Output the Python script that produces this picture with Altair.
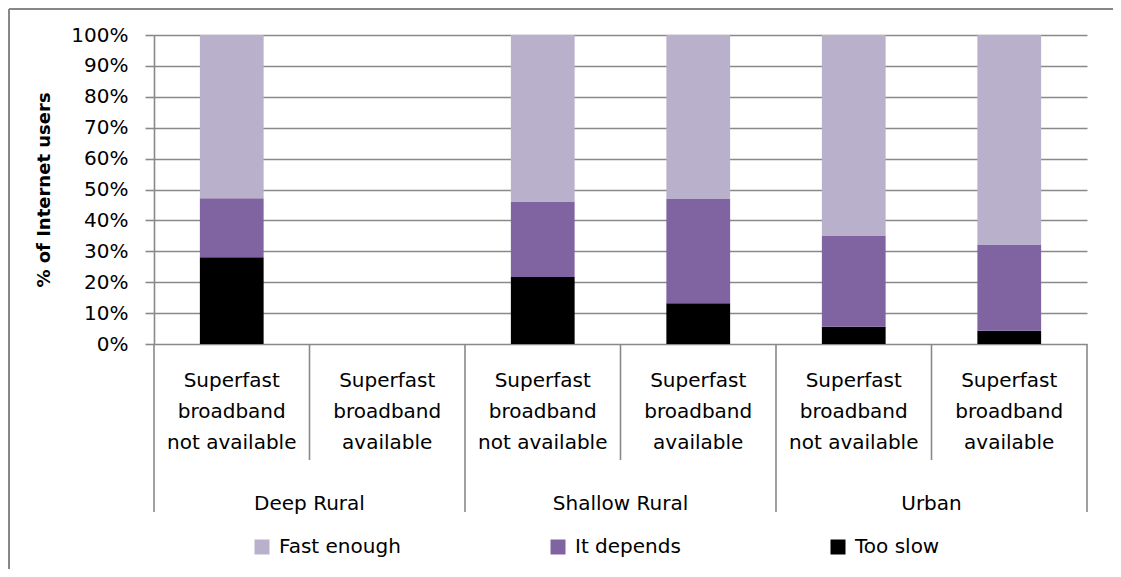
import altair as alt
import pandas as pd

# ---- data ----
groups = ["Deep Rural", "Deep Rural", "Shallow Rural", "Shallow Rural", "Urban", "Urban"]
subcats = [
    "Superfast\nbroadband\nnot available",
    "Superfast\nbroadband\navailable",
    "Superfast\nbroadband\nnot available",
    "Superfast\nbroadband\navailable",
    "Superfast\nbroadband\nnot available",
    "Superfast\nbroadband\navailable",
]
too_slow = [28.1, None, 21.7, 13.2, 5.6, 4.3]
it_depends = [19.1, None, 24.4, 33.7, 29.5, 27.7]
fast_enough = [52.8, None, 53.9, 53.1, 64.9, 68.0]
series = ["Fast enough", "It depends", "Too slow"]
colors = ["#B9B0CB", "#8064A2", "#000000"]
y_ticks = [0, 10, 20, 30, 40, 50, 60, 70, 80, 90, 100]

FONT = "DejaVu Sans"
GRAY = "#898989"

keys = [f"{g}|{i}" for i, g in enumerate(groups)]

rows = []
for k, ts, idp, fe in zip(keys, too_slow, it_depends, fast_enough):
    for name, v, o in (("Too slow", ts, 0), ("It depends", idp, 1), ("Fast enough", fe, 2)):
        if v is not None:
            rows.append({"key": k, "series": name, "value": v, "ord": o})
bar_df = pd.DataFrame(rows)

cat_df = pd.DataFrame({"key": keys, "sub": subcats})

# group boundaries / group label positions
group_start_idx = [i for i in range(len(groups)) if i == 0 or groups[i] != groups[i - 1]]
sub_bound_idx = [i for i in range(len(groups)) if i not in group_start_idx]
group_df = pd.DataFrame({
    "key": [keys[i + 1] for i in group_start_idx],
    "group": [groups[i] for i in group_start_idx],
})
gline_df = pd.DataFrame({"key": [keys[i] for i in group_start_idx]})
sline_df = pd.DataFrame({"key": [keys[i] for i in sub_bound_idx]})
end_df = pd.DataFrame({"key": [keys[-1]]})
one = pd.DataFrame({"a": [0]})

W, H = 933, 309
xscale = alt.Scale(domain=keys, paddingInner=0, paddingOuter=0)

bars = alt.Chart(bar_df).mark_bar(width=alt.RelativeBandSize(0.41)).encode(
    x=alt.X("key:N", scale=xscale, axis=None, sort=keys),
    y=alt.Y(
        "value:Q",
        stack="zero",
        scale=alt.Scale(domain=[0, 100]),
        axis=alt.Axis(
            values=y_ticks,
            labelExpr="datum.value + '%'",
            grid=True,
            gridColor=GRAY,
            gridWidth=1.6,
            tickSize=9,
            tickColor=GRAY,
            tickWidth=1.6,
            domainColor=GRAY,
            domainWidth=1.6,
            labelFontSize=20,
            labelPadding=17,
            labelColor="black",
            title="% of Internet users",
            titleFontSize=18,
            titleFontWeight="bold",
            titleColor="black",
            titlePadding=17,
        ),
    ),
    color=alt.Color(
        "series:N",
        scale=alt.Scale(domain=series, range=colors),
        legend=alt.Legend(
            title=None,
            orient="none",
            direction="horizontal",
            legendX=98,
            legendY=502,
            symbolType="square",
            symbolSize=225,
            symbolStrokeWidth=0,
            symbolOpacity=1,
            labelFontSize=20,
            labelOffset=7,
            labelColor="black",
            columnPadding=147,
            columns=3,
        ),
    ),
    order=alt.Order("ord:Q"),
)

sub_text = alt.Chart(cat_df).mark_text(
    lineBreak="\n", fontSize=20, lineHeight=31, baseline="middle", color="black"
).encode(
    x=alt.X("key:N", scale=xscale, sort=keys),
    y=alt.value(346),
    text="sub:N",
)

group_text = alt.Chart(group_df).mark_text(
    fontSize=20, baseline="middle", color="black"
).encode(
    x=alt.X("key:N", scale=xscale, sort=keys, bandPosition=0),
    y=alt.value(469),
    text="group:N",
)

glines = alt.Chart(gline_df).mark_rule(color=GRAY, strokeWidth=1.6).encode(
    x=alt.X("key:N", scale=xscale, sort=keys, bandPosition=0),
    y=alt.value(H),
    y2=alt.value(477),
)
endline = alt.Chart(end_df).mark_rule(color=GRAY, strokeWidth=1.6).encode(
    x=alt.X("key:N", scale=xscale, sort=keys, bandPosition=1),
    y=alt.value(H),
    y2=alt.value(477),
)
slines = alt.Chart(sline_df).mark_rule(color=GRAY, strokeWidth=1.6).encode(
    x=alt.X("key:N", scale=xscale, sort=keys, bandPosition=0),
    y=alt.value(H),
    y2=alt.value(425),
)

border_top = alt.Chart(one).mark_rule(color="#878787", strokeWidth=2).encode(
    x=alt.value(-145), x2=alt.value(W + 30), y=alt.value(-26)
)
border_left = alt.Chart(one).mark_rule(color="#878787", strokeWidth=2).encode(
    x=alt.value(-145), y=alt.value(-26), y2=alt.value(H + 228)
)

chart = alt.layer(
    border_top, border_left, bars, glines, endline, slines, sub_text, group_text
).properties(
    width=W,
    height=H,
    autosize=alt.AutoSizeParams(type="none"),
    padding={"left": 146, "top": 27, "right": 26, "bottom": 225},
).configure(font=FONT).configure_view(strokeWidth=0)

chart.save("out.html", embed_options={"renderer": "svg", "actions": False})
